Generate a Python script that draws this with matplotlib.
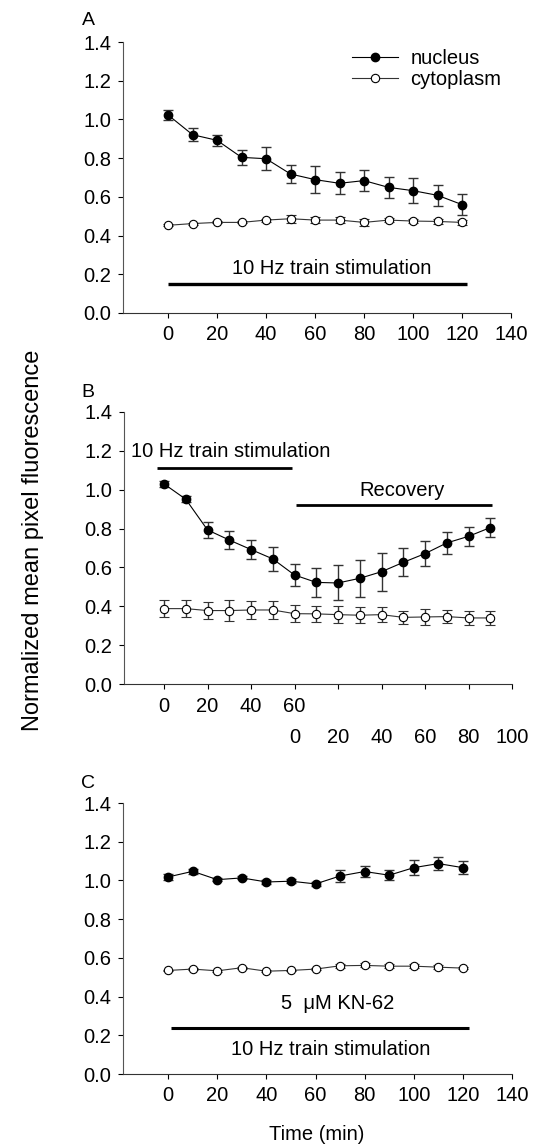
import matplotlib
matplotlib.use("Agg")
import matplotlib.pyplot as plt
import matplotlib.transforms as mtransforms
from matplotlib.lines import Line2D

plt.rcParams["font.family"] = ["Liberation Sans", "DejaVu Sans"]
plt.rcParams["font.size"] = 14.5

# ---- data ----
time_a = [0, 10, 20, 30, 40, 50, 60, 70, 80, 90, 100, 110, 120]
nuc_a = [1.023, 0.921, 0.892, 0.804, 0.797, 0.718, 0.689, 0.670, 0.684, 0.649, 0.632, 0.608, 0.560]
nuc_a_err = [0.025, 0.035, 0.03, 0.04, 0.06, 0.045, 0.07, 0.057, 0.055, 0.053, 0.065, 0.053, 0.055]
cyt_a = [0.453, 0.462, 0.468, 0.468, 0.480, 0.487, 0.480, 0.480, 0.468, 0.480, 0.475, 0.473, 0.468]
cyt_a_err = [0.005, 0.005, 0.005, 0.005, 0.008, 0.02, 0.015, 0.015, 0.02, 0.01, 0.01, 0.015, 0.015]

time_b = [0, 10, 20, 30, 40, 50, 60, 70, 80, 90, 100, 110, 120, 130, 140, 150]
nuc_b = [1.030, 0.951, 0.793, 0.741, 0.692, 0.644, 0.561, 0.523, 0.520, 0.544,
         0.578, 0.626, 0.671, 0.726, 0.760, 0.805]
nuc_b_err = [0.015, 0.015, 0.04, 0.045, 0.05, 0.06, 0.057, 0.073, 0.09, 0.095,
             0.098, 0.072, 0.065, 0.055, 0.048, 0.05]
cyt_b = [0.388, 0.388, 0.378, 0.378, 0.381, 0.381, 0.362, 0.361, 0.357, 0.354,
         0.357, 0.343, 0.345, 0.347, 0.340, 0.340]
cyt_b_err = [0.045, 0.045, 0.045, 0.053, 0.045, 0.045, 0.043, 0.04, 0.045, 0.04,
             0.04, 0.035, 0.04, 0.035, 0.035, 0.035]
stim_ticks_b = [0, 20, 40, 60]
recovery_ticks_b = [0, 20, 40, 60, 80, 100]

time_c = [0, 10, 20, 30, 40, 50, 60, 70, 80, 90, 100, 110, 120]
nuc_c = [1.018, 1.047, 1.004, 1.013, 0.992, 0.996, 0.982, 1.023, 1.046, 1.027, 1.066, 1.087, 1.066]
nuc_c_err = [0.015, 0.012, 0.008, 0.008, 0.01, 0.01, 0.01, 0.03, 0.03, 0.025, 0.04, 0.035, 0.035]
cyt_c = [0.535, 0.542, 0.533, 0.549, 0.531, 0.535, 0.542, 0.559, 0.561, 0.557, 0.557, 0.552, 0.547]
cyt_c_err = [0.004, 0.004, 0.004, 0.004, 0.004, 0.004, 0.004, 0.01, 0.01, 0.01, 0.01, 0.01, 0.005]

yticks = [0.0, 0.2, 0.4, 0.6, 0.8, 1.0, 1.2, 1.4]
FS = 14.5


def draw_series(ax, t, nuc, nuc_err, cyt, cyt_err):
    ax.errorbar(t, nuc, yerr=nuc_err, fmt="-o", color="black", ecolor="#333333",
                elinewidth=1.0, capsize=3.6, capthick=1.0, lw=0.8, ms=6,
                mfc="black", mec="black", zorder=3)
    ax.errorbar(t, cyt, yerr=cyt_err, fmt="-o", color="#333333", ecolor="#333333",
                elinewidth=1.0, capsize=3.6, capthick=1.0, lw=0.8, ms=6,
                mfc="white", mec="black", mew=0.8, zorder=3)


def style_axes(ax, xmax):
    for s in ["top", "right"]:
        ax.spines[s].set_visible(False)
    ax.spines["left"].set_color("#555555")
    ax.spines["bottom"].set_color("#333333")
    ax.set_ylim(0, 1.4)
    ax.set_xlim(-18.4, xmax)
    ax.set_yticks(yticks)
    ax.set_yticklabels([f"{v:.1f}" for v in yticks])
    ax.tick_params(direction="out", length=3.6, width=0.8, labelsize=FS)
    ax.tick_params(axis="y", pad=5)
    ax.tick_params(axis="x", pad=5)


fig = plt.figure(figsize=(5.36, 11.46), dpi=100)
W, H = 536, 1146


def add_axes(left, top, right, bottom):
    return fig.add_axes([left / W, 1 - bottom / H, (right - left) / W, (bottom - top) / H])


# Panel A
ax_a = add_axes(123, 42, 511, 313)
draw_series(ax_a, time_a, nuc_a, nuc_a_err, cyt_a, cyt_a_err)
style_axes(ax_a, 140)
ax_a.set_xticks([0, 20, 40, 60, 80, 100, 120, 140])
ax_a.plot([0, 122], [0.152, 0.152], color="black", lw=2.4, solid_capstyle="butt")
ax_a.text(67, 0.232, "10 Hz train stimulation", ha="center", va="center", fontsize=FS)
handles = [
    Line2D([], [], color="black", lw=0.8, marker="o", ms=6, mfc="black", mec="black"),
    Line2D([], [], color="#333333", lw=0.8, marker="o", ms=6, mfc="white", mec="black", mew=0.8),
]
ax_a.legend(handles, ["nucleus", "cytoplasm"], loc="upper left", bbox_to_anchor=(0.59, 0.975),
            frameon=False, handlelength=2.3, handletextpad=0.6, labelspacing=0.12,
            borderaxespad=0, borderpad=0, fontsize=FS)
fig.text(82 / W, 1 - 25 / H, "A", ha="left", va="baseline", fontsize=14)

# Panel B
ax_b = add_axes(124, 412, 512, 684)
draw_series(ax_b, time_b, nuc_b, nuc_b_err, cyt_b, cyt_b_err)
style_axes(ax_b, 160)
ax_b.set_xticks([0, 20, 40, 60, 80, 100, 120, 140, 160])
ax_b.tick_params(axis="x", labelbottom=False)
trans_b = mtransforms.blended_transform_factory(ax_b.transData, ax_b.transAxes)
for v in stim_ticks_b:
    ax_b.text(v, -0.083, str(v), transform=trans_b, ha="center", va="center", fontsize=FS)
for v in recovery_ticks_b:
    ax_b.text(v + 60, -0.197, str(v), transform=trans_b, ha="center", va="center", fontsize=FS)
ax_b.plot([-3, 59], [1.112, 1.112], color="black", lw=2.0, solid_capstyle="butt")
ax_b.text(-15.1, 1.199, "10 Hz train stimulation", ha="left", va="center", fontsize=FS)
ax_b.plot([60.5, 151], [0.923, 0.923], color="black", lw=2.0, solid_capstyle="butt")
ax_b.text(109.6, 0.995, "Recovery", ha="center", va="center", fontsize=FS)
fig.text(81 / W, 1 - 397 / H, "B", ha="left", va="baseline", fontsize=14)

# Panel C
ax_c = add_axes(123, 803, 512, 1074)
draw_series(ax_c, time_c, nuc_c, nuc_c_err, cyt_c, cyt_c_err)
style_axes(ax_c, 140)
ax_c.set_xticks([0, 20, 40, 60, 80, 100, 120, 140])
ax_c.plot([1, 122.5], [0.236, 0.236], color="black", lw=2.2, solid_capstyle="butt")
ax_c.text(69, 0.362, "5  \u03bcM KN-62", ha="center", va="center", fontsize=FS)
ax_c.text(66, 0.129, "10 Hz train stimulation", ha="center", va="center", fontsize=FS)
fig.text(317 / W, 1 - 1134 / H, "Time (min)", ha="center", va="center", fontsize=FS)
fig.text(81 / W, 1 - 788 / H, "C", ha="left", va="baseline", fontsize=14)

fig.text(33 / W, 1 - 540 / H, "Normalized mean pixel fluorescence", rotation=90,
         ha="center", va="center", fontsize=17)

fig.savefig("out.png", dpi=100)
